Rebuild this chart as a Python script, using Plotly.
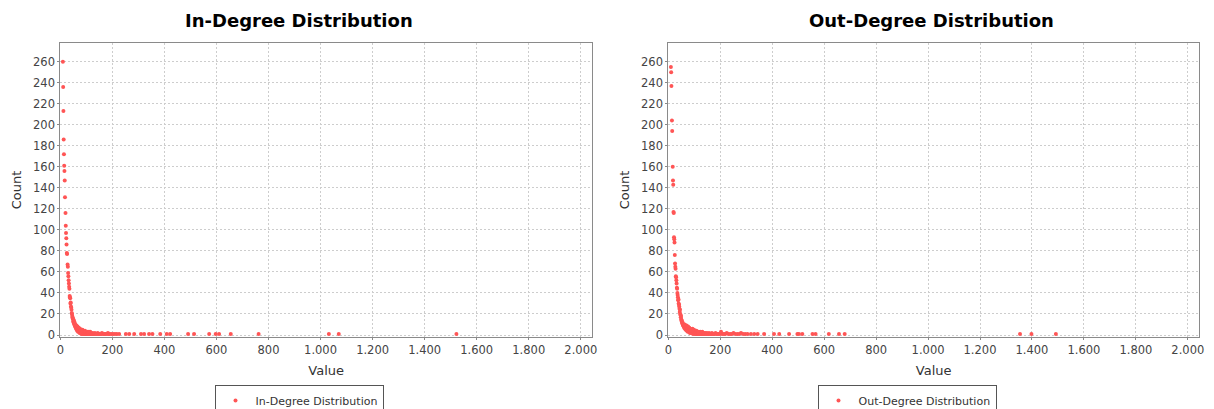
import plotly.graph_objects as go

# In-degree distribution: degree value -> number of nodes
in_values = [
    10, 11, 12, 13, 14, 15, 16, 17, 18, 20, 21, 22, 23, 24, 25, 26, 28, 29, 30, 31,
    32, 33, 34, 35, 36, 37, 38, 39, 40, 41, 42, 43, 44, 45, 46, 47, 48, 49, 50, 51,
    52, 53, 54, 55, 56, 57, 58, 59, 60,
    61, 62, 63, 64, 65, 66, 67, 68, 69, 70, 71, 72, 73, 74, 75, 76, 77, 78, 79, 80,
    81, 82, 83, 84, 85, 86, 87, 88, 89, 90, 91, 92, 93, 94, 95, 96, 97, 98, 99, 100,
    101, 102, 103, 104, 105, 106, 107, 108, 109, 110,
    112, 114, 115, 117, 119, 121, 123, 125, 128, 130, 133, 135, 138, 141, 144, 147,
    150, 153, 157, 160, 164, 168, 171, 175, 180, 183, 186, 190, 196, 203, 210, 217,
    226, 252, 265, 284, 310, 322, 341, 354, 384, 409, 422, 491, 514, 572, 597, 610,
    655, 762, 1032, 1070, 1522,
]
in_counts = [
    260, 236, 213, 186, 172, 161, 156, 147, 131, 116, 104, 97, 92, 86, 78, 77, 67, 65, 59, 56,
    52, 49, 46, 44, 37, 36, 35, 30, 31, 27, 26, 24, 21, 20, 18, 17, 16, 15, 13, 12,
    14, 11, 10, 12, 9, 8, 10, 7, 8,
    6, 9, 5, 7, 4, 8, 5, 3, 6, 4, 7, 3, 5, 2, 4, 6, 3, 2, 5, 3,
    1, 4, 2, 3, 5, 1, 3, 2, 4, 1, 2, 3, 1, 2, 4, 1, 3, 1, 2, 1,
    2, 1, 3, 1, 2, 1, 1, 2, 1, 3,
    2, 1, 3, 1, 2, 1, 1, 2, 1, 1, 2, 1, 1, 1, 2, 1,
    1, 1, 1, 2, 1, 1, 1, 1, 1, 2, 1, 1, 1, 1, 1, 1,
    1, 1, 1, 1, 1, 1, 1, 1, 1, 1, 1, 1, 1, 1, 1, 1,
    1, 1, 1, 1, 1,
]

# Out-degree distribution: degree value -> number of nodes
out_values = [
    10, 11, 12, 14, 15, 17, 18, 19, 20, 21, 22, 23, 24, 25, 26, 27, 28, 29, 30, 31,
    32, 33, 34, 35, 36, 37, 38, 39, 40, 41, 42, 43, 44, 45, 46, 47, 48, 49, 50, 51,
    52, 53, 54, 55, 56, 57, 58, 59, 60, 61,
    62, 63, 64, 65, 66, 67, 68, 69, 70, 71, 72, 73, 74, 75, 76, 77, 78, 79, 80, 81,
    82, 83, 84, 85, 86, 87, 88, 89, 90, 91, 92, 93, 94, 95, 96, 97, 98, 99, 100, 101,
    102, 103, 104, 105, 106, 107, 108, 109, 110, 111, 112, 113, 114, 115, 116, 117, 118,
    119, 120, 122, 123, 124, 126, 127, 128, 130, 131, 133, 135, 136, 138, 140,
    143, 145, 147, 149, 152, 154, 157, 160, 162, 165, 168, 171, 175, 178, 182, 185,
    190, 194, 198, 203, 208, 214, 219, 225, 231, 238, 244, 251, 258, 266, 273, 280,
    288, 296, 305, 318, 331,
    344, 369, 407, 427, 465, 497, 503, 516, 555, 567, 618, 657, 679, 1354, 1398, 1492,
]
out_counts = [
    255, 250, 237, 204, 194, 160, 147, 143, 117, 116, 93, 91, 88, 76, 68, 65, 63, 56, 55, 52,
    49, 45, 44, 40, 38, 36, 33, 34, 30, 29, 27, 25, 22, 24, 20, 19, 17, 18, 15, 14,
    13, 12, 11, 12, 10, 9, 10, 8, 9, 7,
    8, 10, 6, 9, 7, 5, 8, 6, 9, 4, 7, 5, 6, 3, 8, 4, 6, 5, 3, 7,
    4, 2, 5, 6, 3, 4, 2, 5, 3, 4, 2, 6, 3, 1, 4, 2, 3, 5, 2, 3,
    1, 4, 2, 3, 1, 2, 4, 1, 3, 2, 1, 3, 2, 1, 2, 3, 1,
    2, 1, 2, 3, 1, 2, 1, 2, 1, 3, 1, 2, 1, 2, 1,
    2, 1, 1, 2, 1, 1, 2, 1, 1, 1, 2, 1, 1, 1, 2, 1,
    1, 1, 1, 3, 1, 1, 1, 2, 1, 1, 1, 2, 1, 1, 1, 2,
    1, 1, 1, 1, 1,
    1, 1, 1, 1, 1, 1, 1, 1, 1, 1, 1, 1, 1, 1, 1, 1,
]

x_ticks = [0, 200, 400, 600, 800, 1000, 1200, 1400, 1600, 1800, 2000]
x_tick_labels = ["0", "200", "400", "600", "800", "1.000", "1.200", "1.400",
                 "1.600", "1.800", "2.000"]
y_ticks = list(range(0, 261, 20))

W, H = 1214, 409
FONT = "DejaVu Sans"
POINT_COLOR = "#ff5555"

fig = go.Figure()
fig.add_trace(go.Scatter(
    x=in_values, y=in_counts, mode="markers", name="In-Degree Distribution",
    marker=dict(size=4, color=POINT_COLOR, line=dict(width=0)),
    xaxis="x", yaxis="y", legend="legend",
))
fig.add_trace(go.Scatter(
    x=out_values, y=out_counts, mode="markers", name="Out-Degree Distribution",
    marker=dict(size=4, color=POINT_COLOR, line=dict(width=0)),
    xaxis="x2", yaxis="y2", legend="legend2",
))


def px_x(p):
    return p / W


def px_y(p):
    return 1 - p / H


x_common = dict(
    range=[0, 2043], tickvals=x_ticks, ticktext=x_tick_labels,
    showgrid=True, gridcolor="#cdcdcd", griddash="2px,2px", gridwidth=1,
    zeroline=False, showline=True, linecolor="#8a8a8a", linewidth=1, mirror=True,
    ticks="outside", ticklen=2, tickcolor="#8a8a8a",
    tickfont=dict(family=FONT, size=11.5, color="#444444"),
    title=dict(text="Value", font=dict(family=FONT, size=13, color="#333333"), standoff=10),
    automargin=False,
)
y_common = dict(
    range=[-1.9, 277.8], tickvals=y_ticks,
    showgrid=True, gridcolor="#cdcdcd", griddash="2px,2px", gridwidth=1,
    zeroline=False, showline=True, linecolor="#8a8a8a", linewidth=1, mirror=True,
    ticks="outside", ticklen=2, tickcolor="#8a8a8a",
    tickfont=dict(family=FONT, size=11.5, color="#444444"),
    title=dict(text="Count", font=dict(family=FONT, size=13, color="#333333"), standoff=8),
    domain=[px_y(337), px_y(43)],
    automargin=False,
)

legend_common = dict(
    orientation="h", yanchor="top", y=px_y(385), xanchor="center",
    bgcolor="white", bordercolor="#555555", borderwidth=1,
    font=dict(family=FONT, size=11, color="#333333"),
    itemsizing="trace",
)

fig.update_layout(
    width=W, height=H,
    margin=dict(l=0, r=0, t=0, b=0, autoexpand=False),
    paper_bgcolor="white", plot_bgcolor="white",
    showlegend=True,
    xaxis=dict(domain=[px_x(60.3), px_x(592)], anchor="y", **x_common),
    yaxis=dict(anchor="x", **y_common),
    xaxis2=dict(domain=[px_x(668.3), px_x(1199)], anchor="y2", **x_common),
    yaxis2=dict(anchor="x2", **y_common),
    legend=dict(x=px_x(299), **legend_common),
    legend2=dict(x=px_x(907), **legend_common),
    annotations=[
        dict(text="<b>In-Degree Distribution</b>", x=px_x(298.5), y=px_y(20),
             xref="paper", yref="paper", xanchor="center", yanchor="middle",
             showarrow=False, font=dict(family=FONT, size=18, color="black")),
        dict(text="<b>Out-Degree Distribution</b>", x=px_x(931), y=px_y(20),
             xref="paper", yref="paper", xanchor="center", yanchor="middle",
             showarrow=False, font=dict(family=FONT, size=18, color="black")),
    ],
)

fig.write_html("out.html")
